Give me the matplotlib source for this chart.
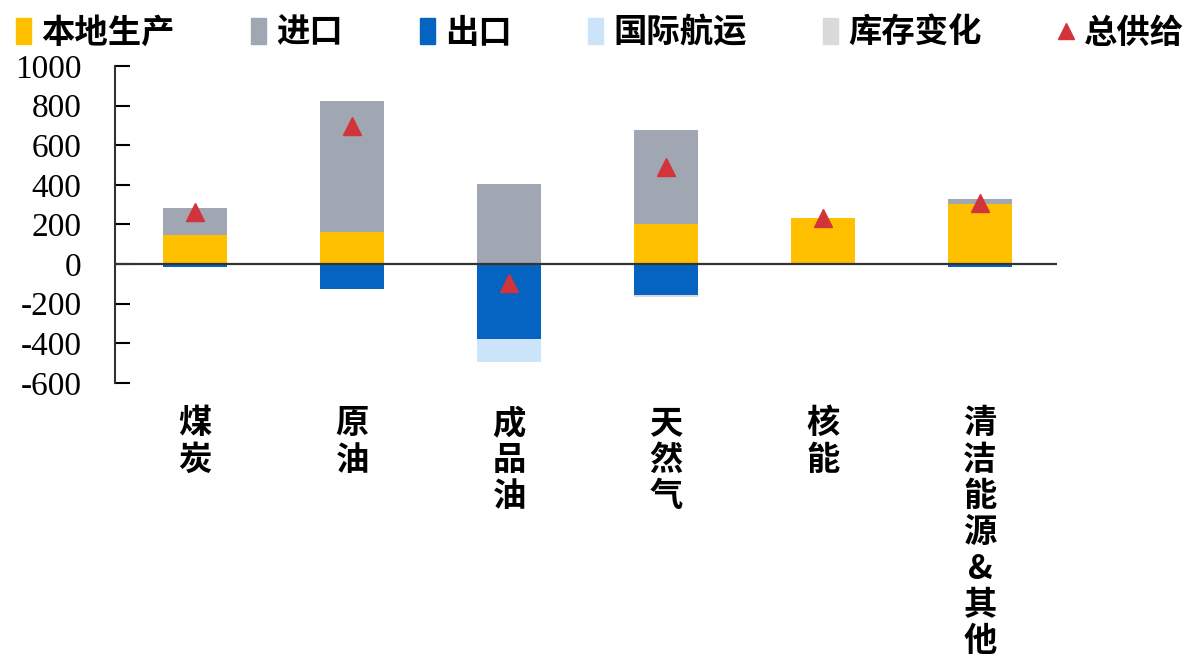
import numpy as np
import matplotlib
matplotlib.use("Agg")
import matplotlib.pyplot as plt
from matplotlib.lines import Line2D
from matplotlib.patches import Patch

plt.rcParams["font.family"] = ["Noto Sans CJK SC", "DejaVu Sans"]

# ============================
# Data
# ============================

categories = ["煤炭", "原油", "成品油", "天然气", "核能", "清洁能源&其他"]
production = [145, 160, 0, 205, 235, 305]
imports = [140, 665, 405, 470, 0, 25]
exports = [-15, -125, -380, -155, 0, -15]
bunkers = [0, 0, -115, 0, 0, 0]
stock_change = [0, 0, 0, -12, 0, 0]
total_supply = [262, 695, -95, 490, 235, 308]

yticks = [1000, 800, 600, 400, 200, 0, -200, -400, -600]

# ============================
# Plot
# ============================

c_prod = "#FFC000"
c_imp = "#A0A6B2"
c_exp = "#0563C1"
c_bunk = "#CCE4FA"
c_stock = "#DADADA"
c_tot = "#D1343A"

fig = plt.figure(figsize=(11.88, 6.64), dpi=100)
ax = fig.add_axes([0.0968, 0.4232, 0.7929, 0.4774])

x = np.arange(len(categories))
w = 0.41

prod = np.array(production)
imp = np.array(imports)
exp_ = np.array(exports)
bunk = np.array(bunkers)
stk = np.array(stock_change)

ax.bar(x, prod, w, color=c_prod, zorder=2)
ax.bar(x, imp, w, bottom=prod, color=c_imp, zorder=2)
ax.bar(x, exp_, w, color=c_exp, zorder=2)
ax.bar(x, bunk, w, bottom=exp_, color=c_bunk, zorder=2)
ax.bar(x, stk, w, bottom=exp_ + bunk, color=c_stock, zorder=2)
ax.plot(x, total_supply, linestyle="none", marker="^", markersize=13,
        color=c_tot, zorder=4)

ax.axhline(0, color="#333333", lw=1.6, zorder=3)

ax.set_xlim(-0.51, 5.49)
ax.set_ylim(-600, 1000)
ax.set_yticks(yticks)
ax.set_yticklabels([str(v) for v in yticks], family="Liberation Serif",
                   fontsize=24)
ax.tick_params(axis="y", direction="in", length=11, width=1.5, pad=24)
ax.set_xticks([])

for s in ["top", "right", "bottom"]:
    ax.spines[s].set_visible(False)
ax.spines["left"].set_linewidth(1.5)
ax.spines["left"].set_color("#333333")

# vertical category labels under the plot
for xi, name in zip(x, categories):
    ax.text(xi, -722, "\n".join(name), ha="center", va="top", fontsize=24,
            fontweight="bold", linespacing=1.13,
            family=["Noto Sans CJK SC", "Liberation Serif"])

handles = [
    Patch(color=c_prod, label="本地生产"),
    Patch(color=c_imp, label="进口"),
    Patch(color=c_exp, label="出口"),
    Patch(color=c_bunk, label="国际航运"),
    Patch(color=c_stock, label="库存变化"),
    Line2D([], [], linestyle="none", marker="^", markersize=11,
           color=c_tot, label="总供给"),
]
fig.legend(handles=handles, loc="upper center", bbox_to_anchor=(0.505, 1.02),
           ncol=6, frameon=False, prop={"size": 24, "weight": "bold"},
           handlelength=0.45, handleheight=0.8, handletextpad=0.3,
           columnspacing=2.3)

plt.savefig("out.png", dpi=100)
plt.close()
